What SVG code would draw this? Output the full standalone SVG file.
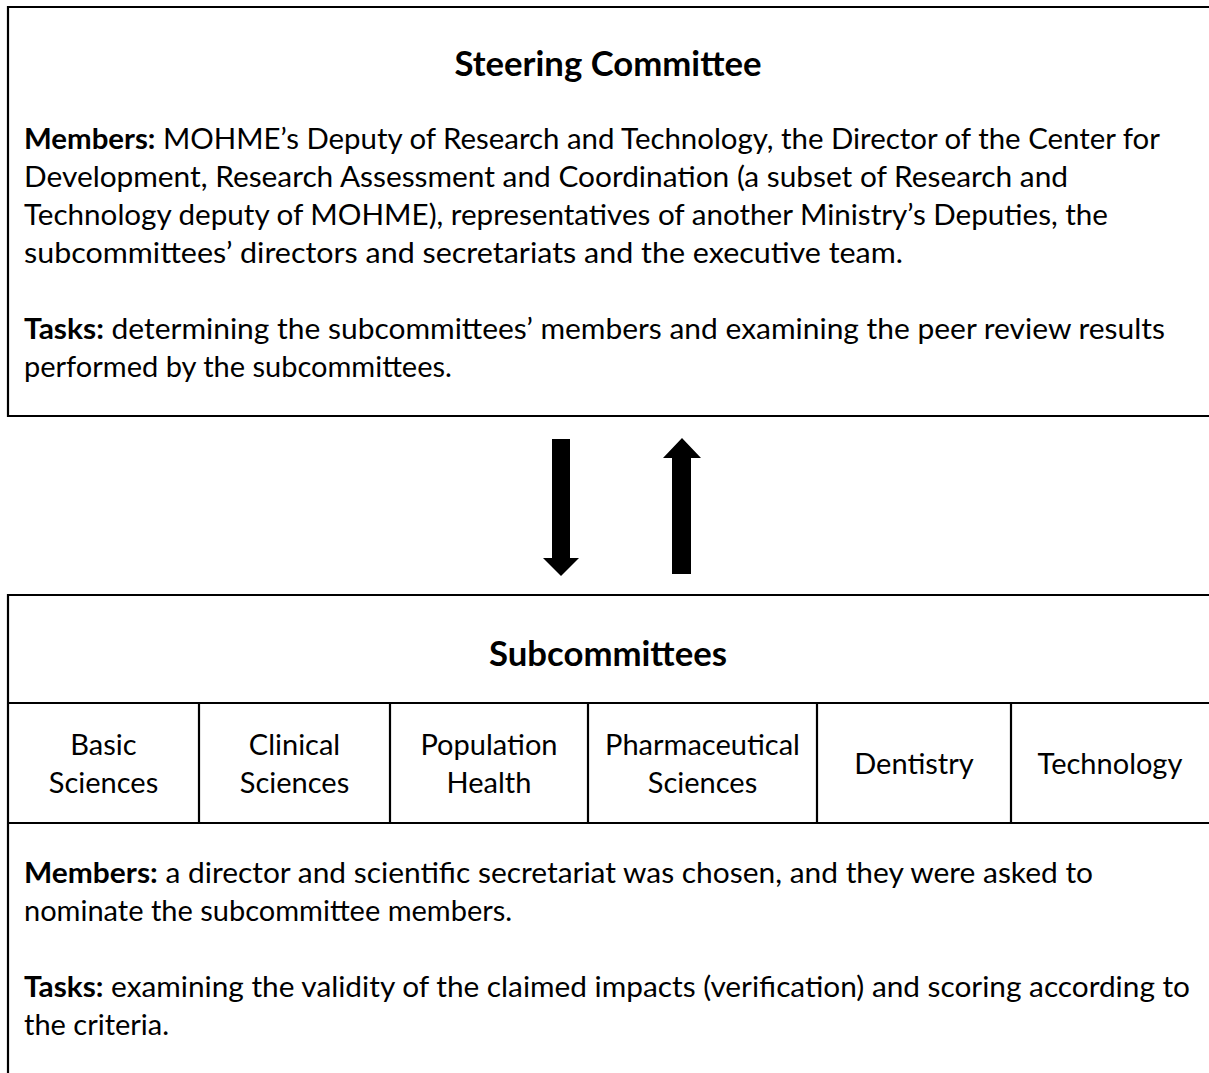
<svg xmlns="http://www.w3.org/2000/svg" width="1209" height="1073" viewBox="0 0 1209 1073">
<style>
.ln{stroke:#000;stroke-width:2.2;fill:none}
.t{font-family:Lato,"Liberation Sans",Arial,sans-serif;font-size:29px;fill:#000}
.b{font-weight:bold}
.h{font-family:Lato,"Liberation Sans",Arial,sans-serif;font-size:33.5px;font-weight:bold;fill:#000;text-anchor:middle}
.c{text-anchor:middle}
.arr{fill:#000}
</style>
<rect width="1209" height="1073" fill="#fff"/>
<g id="steering-committee">
<path class="ln" d="M1212,7 H8 V416 H1212"/>
<text class="h" x="608" y="76" textLength="307" lengthAdjust="spacingAndGlyphs">Steering Committee</text>
<text class="t" x="24" y="149" textLength="1136" lengthAdjust="spacingAndGlyphs"><tspan class="b">Members:</tspan> MOHME’s Deputy of Research and Technology, the Director of the Center for</text>
<text class="t" x="24" y="187" textLength="1044" lengthAdjust="spacingAndGlyphs">Development, Research Assessment and Coordination (a subset of Research and</text>
<text class="t" x="24" y="225" textLength="1084" lengthAdjust="spacingAndGlyphs">Technology deputy of MOHME), representatives of another Ministry’s Deputies, the</text>
<text class="t" x="24" y="263" textLength="879" lengthAdjust="spacingAndGlyphs">subcommittees’ directors and secretariats and the executive team.</text>
<text class="t" x="24" y="339" textLength="1141" lengthAdjust="spacingAndGlyphs"><tspan class="b">Tasks:</tspan> determining the subcommittees’ members and examining the peer review results</text>
<text class="t" x="24" y="377">performed by the subcommittees.</text>
</g>
<g id="connectors">
<polygon class="arr" points="552,439 570,439 570,558 579,558 561,576 543,558 552,558"/>
<polygon class="arr" points="672,574 691,574 691,458 701,458 682,438 663,458 672,458"/>
</g>
<g id="subcommittees">
<path class="ln" d="M1212,595 H8 V1076"/>
<path class="ln" d="M8,703 H1212 M8,823 H1212"/>
<path class="ln" d="M199,703 V823 M390,703 V823 M588,703 V823 M817,703 V823 M1011,703 V823"/>
<text class="h" x="608" y="666" textLength="238" lengthAdjust="spacingAndGlyphs">Subcommittees</text>
<g id="basic-sciences"><text class="t c" x="103.5" y="755">Basic</text><text class="t c" x="103.5" y="793">Sciences</text></g>
<g id="clinical-sciences"><text class="t c" x="294.5" y="755">Clinical</text><text class="t c" x="294.5" y="793">Sciences</text></g>
<g id="population-health"><text class="t c" x="489" y="755">Population</text><text class="t c" x="489" y="793">Health</text></g>
<g id="pharmaceutical-sciences"><text class="t c" x="702.5" y="755">Pharmaceutical</text><text class="t c" x="702.5" y="793">Sciences</text></g>
<g id="dentistry"><text class="t c" x="914" y="774">Dentistry</text></g>
<g id="technology"><text class="t c" x="1110" y="774">Technology</text></g>
<text class="t" x="24" y="883" textLength="1069" lengthAdjust="spacingAndGlyphs"><tspan class="b">Members:</tspan> a director and scientific secretariat was chosen, and they were asked to</text>
<text class="t" x="24" y="921">nominate the subcommittee members.</text>
<text class="t" x="24" y="997" textLength="1166" lengthAdjust="spacingAndGlyphs"><tspan class="b">Tasks:</tspan> examining the validity of the claimed impacts (verification) and scoring according to</text>
<text class="t" x="24" y="1035">the criteria.</text>
</g>
</svg>
